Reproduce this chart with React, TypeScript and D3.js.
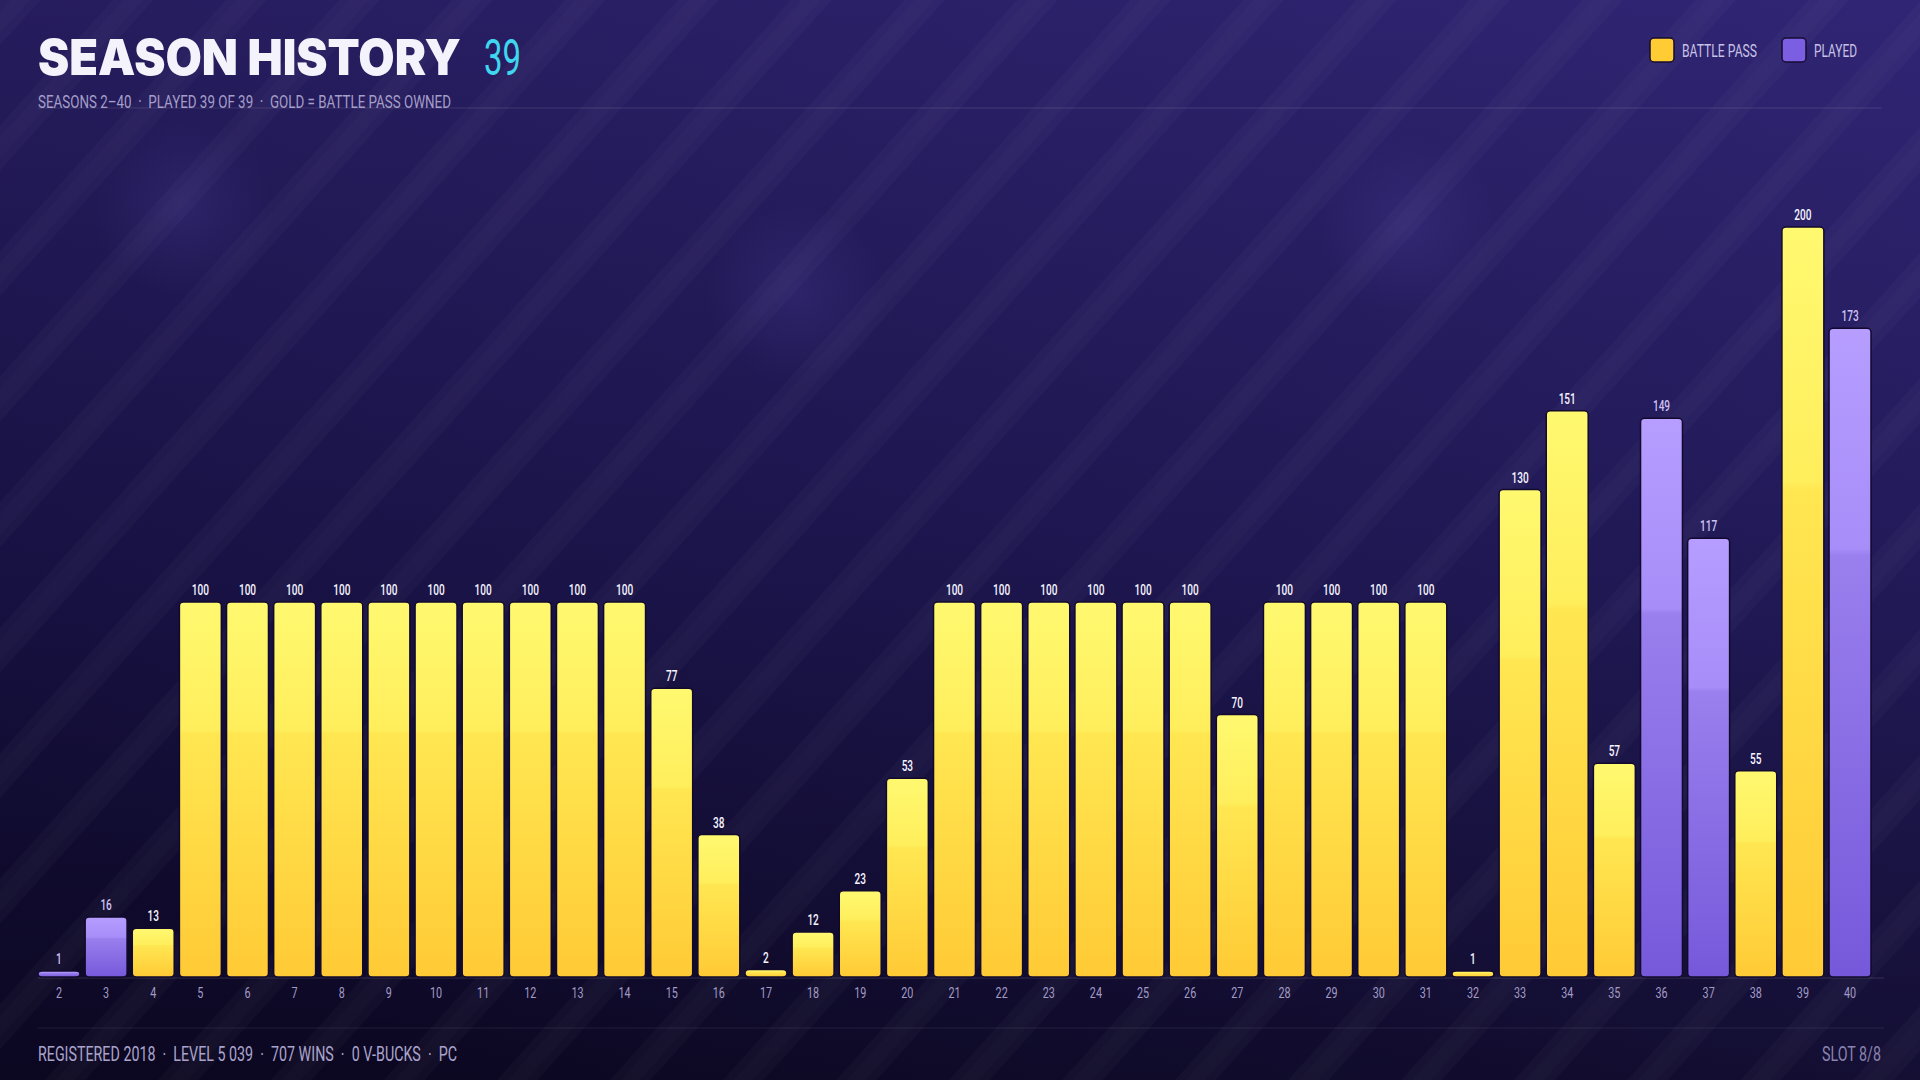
import { useEffect, useRef } from "react";
import * as d3 from "d3";

// season numbers, levels reached, and whether the battle pass was owned
const seasons = [2, 3, 4, 5, 6, 7, 8, 9, 10, 11, 12, 13, 14, 15, 16, 17, 18, 19, 20, 21, 22, 23, 24, 25, 26, 27, 28, 29, 30, 31, 32, 33, 34, 35, 36, 37, 38, 39, 40];
const levels = [1, 16, 13, 100, 100, 100, 100, 100, 100, 100, 100, 100, 100, 77, 38, 2, 12, 23, 53, 100, 100, 100, 100, 100, 100, 70, 100, 100, 100, 100, 1, 130, 151, 57, 149, 117, 55, 200, 173];
const battlePass = [false, false, true, true, true, true, true, true, true, true, true, true, true, true, true, true, true, true, true, true, true, true, true, true, true, true, true, true, true, true, true, true, true, true, false, false, true, true, false];

const legendItems = ["BATTLE PASS", "PLAYED"];
const titleText = "SEASON HISTORY";
const titleCount = "39";
const subtitleText = "SEASONS 2–40  ·  PLAYED 39 OF 39  ·  GOLD = BATTLE PASS OWNED";
const footerText = "REGISTERED 2018  ·  LEVEL 5 039  ·  707 WINS  ·  0 V-BUCKS  ·  PC";
const slotText = "SLOT 8/8";
const glows = [
  [184, 208],
  [796, 294],
  [1408, 226],
];

const COND = "Roboto, 'Noto Sans', sans-serif";
const SQUEEZE = 0.72;

const App = () => {
  const chartRef = useRef<SVGSVGElement>(null);

  useEffect(() => {
    document.body.style.margin = "0";
    const W = 1920;
    const H = 1080;
    const svg = d3.select(chartRef.current);
    svg.selectAll("*").remove();
    svg.attr("width", W).attr("height", H);

    const defs = svg.append("defs");

    // background gradients
    const bg = defs.append("linearGradient").attr("id", "bg").attr("x1", 0).attr("y1", 0).attr("x2", 0).attr("y2", 1);
    bg.append("stop").attr("offset", 0).attr("stop-color", "#2b206a");
    bg.append("stop").attr("offset", 0.55).attr("stop-color", "#1b144c");
    bg.append("stop").attr("offset", 1).attr("stop-color", "#0c0821");

    const bg2 = defs.append("linearGradient").attr("id", "bg2").attr("x1", 1).attr("y1", 0).attr("x2", 0).attr("y2", 0.7);
    bg2.append("stop").attr("offset", 0).attr("stop-color", "#3a2f88").attr("stop-opacity", 0.35);
    bg2.append("stop").attr("offset", 1).attr("stop-color", "#0a0620").attr("stop-opacity", 0.3);

    const stripes = defs.append("pattern").attr("id", "stripes").attr("patternUnits", "userSpaceOnUse")
      .attr("width", 84).attr("height", 84).attr("patternTransform", "rotate(42)");
    stripes.append("rect").attr("width", 30).attr("height", 84).attr("fill", "#ffffff").attr("opacity", 0.022);
    stripes.append("rect").attr("x", 8).attr("width", 14).attr("height", 84).attr("fill", "#ffffff").attr("opacity", 0.012);

    const glow = defs.append("radialGradient").attr("id", "glow");
    glow.append("stop").attr("offset", 0).attr("stop-color", "#5a4bb0").attr("stop-opacity", 0.2);
    glow.append("stop").attr("offset", 1).attr("stop-color", "#5a4bb0").attr("stop-opacity", 0);

    // bar gradients
    const gold = defs.append("linearGradient").attr("id", "gold").attr("x1", 0).attr("y1", 0).attr("x2", 0).attr("y2", 1);
    gold.append("stop").attr("offset", 0).attr("stop-color", "#fff970");
    gold.append("stop").attr("offset", 0.34).attr("stop-color", "#ffee5c");
    gold.append("stop").attr("offset", 0.35).attr("stop-color", "#ffe752");
    gold.append("stop").attr("offset", 1).attr("stop-color", "#ffca35");

    const purple = defs.append("linearGradient").attr("id", "purple").attr("x1", 0).attr("y1", 0).attr("x2", 0).attr("y2", 1);
    purple.append("stop").attr("offset", 0).attr("stop-color", "#b69dff");
    purple.append("stop").attr("offset", 0.34).attr("stop-color", "#a78df8");
    purple.append("stop").attr("offset", 0.35).attr("stop-color", "#9a7fee");
    purple.append("stop").attr("offset", 1).attr("stop-color", "#7659da");

    svg.append("rect").attr("width", W).attr("height", H).attr("fill", "url(#bg)");
    svg.append("rect").attr("width", W).attr("height", H).attr("fill", "url(#bg2)");
    svg.selectAll("circle.glow").data(glows).join("circle").attr("class", "glow")
      .attr("cx", d => d[0]).attr("cy", d => d[1]).attr("r", 90).attr("fill", "url(#glow)");
    svg.append("rect").attr("width", W).attr("height", H).attr("fill", "url(#stripes)");

    // header
    svg.append("text").attr("x", 38).attr("y", 75)
      .attr("font-family", "Inter, 'DejaVu Sans', sans-serif").attr("font-weight", 900).attr("font-size", 50)
      .attr("textLength", 423).attr("lengthAdjust", "spacingAndGlyphs")
      .attr("fill", "#f4f2fb").text(titleText);
    svg.append("text").attr("x", 484).attr("y", 75)
      .attr("font-family", COND).attr("font-size", 50)
      .attr("textLength", 37).attr("lengthAdjust", "spacingAndGlyphs")
      .attr("fill", "#3fd6ee").text(titleCount);
    svg.append("line").attr("x1", 38).attr("x2", 1882).attr("y1", 108).attr("y2", 108)
      .attr("stroke", "#ffffff").attr("stroke-opacity", 0.12);
    svg.append("text").attr("x", 38).attr("y", 108)
      .attr("font-family", COND).attr("font-size", 19)
      .attr("textLength", 413).attr("lengthAdjust", "spacingAndGlyphs")
      .style("white-space", "pre")
      .attr("fill", "#a49ec8").text(subtitleText);

    // legend
    const legendX = [1650, 1782];
    const legendW = [75, 43];
    const legendColors = ["#ffcc33", "#7b5ee2"];
    const lg = svg.append("g").selectAll("g").data(legendItems).join("g")
      .attr("transform", (d, i) => `translate(${legendX[i]},38)`);
    lg.append("rect").attr("width", 24).attr("height", 24).attr("rx", 4)
      .attr("fill", (d, i) => legendColors[i]).attr("stroke", "#160c30").attr("stroke-width", 1.5);
    lg.append("text").attr("x", 32).attr("y", 19).attr("font-family", COND).attr("font-size", 19)
      .attr("textLength", (d, i) => legendW[i]).attr("lengthAdjust", "spacingAndGlyphs")
      .attr("fill", "#c7c1e6").text(d => d);

    // scales
    const x = d3.scaleBand<number>().domain(seasons).range([38, 1871]).paddingInner(0.11).paddingOuter(0);
    const y = d3.scaleLinear().domain([0, 200]).range([977, 227]);

    // baseline
    svg.append("line").attr("x1", 38).attr("x2", 1884).attr("y1", 978).attr("y2", 978)
      .attr("stroke", "#ffffff").attr("stroke-opacity", 0.14);

    const data = seasons.map((s, i) => ({ season: s, level: levels[i], bp: battlePass[i] }));
    const barTop = (v: number) => Math.min(y(v), y(0) - 6);

    svg.append("g").selectAll("rect").data(data).join("rect")
      .attr("x", d => x(d.season))
      .attr("width", x.bandwidth())
      .attr("y", d => barTop(d.level))
      .attr("height", d => y(0) - barTop(d.level))
      .attr("rx", 4)
      .attr("fill", d => (d.bp ? "url(#gold)" : "url(#purple)"))
      .attr("stroke", "#120a2c").attr("stroke-width", 1.5);

    // value labels
    svg.append("g").selectAll("text").data(data).join("text")
      .attr("transform", d => `translate(${x(d.season) + x.bandwidth() / 2},${barTop(d.level) - 7}) scale(${SQUEEZE},1)`)
      .attr("text-anchor", "middle")
      .attr("font-family", COND).attr("font-size", 14).attr("font-weight", 500)
      .attr("fill", d => (d.bp ? "#f6f4ff" : "#cdc2f5"))
      .text(d => d.level);

    // x axis labels
    svg.append("g").selectAll("text").data(seasons).join("text")
      .attr("transform", d => `translate(${x(d) + x.bandwidth() / 2},998) scale(${SQUEEZE},1)`)
      .attr("text-anchor", "middle")
      .attr("font-family", COND).attr("font-size", 15)
      .attr("fill", "#a29bc6")
      .text(d => d);

    // footer
    svg.append("line").attr("x1", 38).attr("x2", 1884).attr("y1", 1028).attr("y2", 1028)
      .attr("stroke", "#ffffff").attr("stroke-opacity", 0.08);
    svg.append("text").attr("x", 38).attr("y", 1061)
      .attr("font-family", COND).attr("font-size", 21)
      .attr("textLength", 419).attr("lengthAdjust", "spacingAndGlyphs")
      .style("white-space", "pre")
      .attr("fill", "#aaa4cc").text(footerText);
    svg.append("text").attr("x", 1822).attr("y", 1061)
      .attr("font-family", COND).attr("font-size", 21)
      .attr("textLength", 59).attr("lengthAdjust", "spacingAndGlyphs")
      .attr("fill", "#8a83b0").text(slotText);
  }, []);

  return <svg ref={chartRef} style={{ display: "block" }}></svg>;
};

export default App;
